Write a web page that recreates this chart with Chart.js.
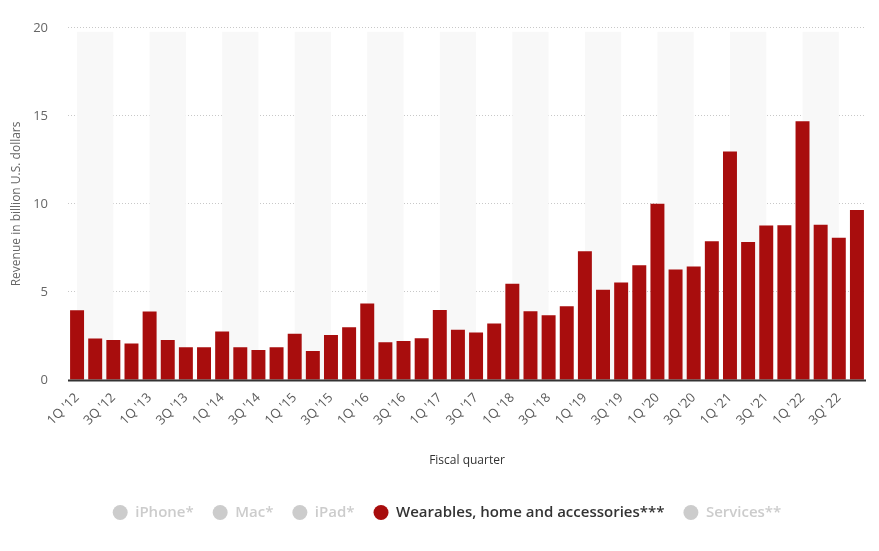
<!DOCTYPE html>
<html>
<head>
<meta charset="utf-8">
<script src="https://cdn.jsdelivr.net/npm/chart.js@4.4.0/dist/chart.umd.min.js"></script>
<style>
  html, body { margin: 0; padding: 0; background: #fff; }
  #wrap { width: 879px; height: 551px; position: relative; }
</style>
</head>
<body>
<div id="wrap"><canvas id="revChart"></canvas></div>
<script>
// fiscal quarters, 1Q '12 .. 4Q '22
const quarters = [
  "1Q '12", "2Q '12", "3Q '12", "4Q '12",
  "1Q '13", "2Q '13", "3Q '13", "4Q '13",
  "1Q '14", "2Q '14", "3Q '14", "4Q '14",
  "1Q '15", "2Q '15", "3Q '15", "4Q '15",
  "1Q '16", "2Q '16", "3Q '16", "4Q '16",
  "1Q '17", "2Q '17", "3Q '17", "4Q '17",
  "1Q '18", "2Q '18", "3Q '18", "4Q '18",
  "1Q '19", "2Q '19", "3Q '19", "4Q '19",
  "1Q '20", "2Q '20", "3Q '20", "4Q '20",
  "1Q '21", "2Q '21", "3Q '21", "4Q '21",
  "1Q '22", "2Q '22", "3Q' 22", "4Q '22"
];

// wearables, home and accessories revenue (billion USD)
const wearables = [
  3.96, 2.35, 2.27, 2.07,
  3.89, 2.27, 1.86, 1.86,
  2.76, 1.86, 1.71, 1.86,
  2.63, 1.65, 2.55, 2.99,
  4.34, 2.14, 2.22, 2.37,
  3.98, 2.85, 2.70, 3.21,
  5.46, 3.91, 3.68, 4.19,
  7.31, 5.13, 5.53, 6.52,
  10.01, 6.28, 6.45, 7.88,
  12.97, 7.84, 8.78, 8.79,
  14.70, 8.81, 8.08, 9.65
];

const yTicks = [0, 5, 10, 15, 20];

const legendNames = ['iPhone*', 'Mac*', 'iPad*', 'Wearables, home and accessories***', 'Services**'];
const legendActive = [false, false, false, true, false];

const barColor = '#a80d0d';
const offColor = '#cccccc';

// light column bands behind every other pair of quarters
const bands = {
  id: 'bands',
  beforeDatasetsDraw(chart) {
    const { ctx, chartArea, scales } = chart;
    ctx.save();
    ctx.fillStyle = '#f8f8f8';
    for (let i = 0; i < quarters.length; i += 4) {
      const x0 = scales.x.getPixelForValue(i);
      const x1 = scales.x.getPixelForValue(Math.min(i + 2, quarters.length - 1));
      ctx.fillRect(x0, chartArea.top + 4, x1 - x0, chartArea.bottom - chartArea.top - 4);
    }
    ctx.restore();
  },
  // baseline on top of the bars
  afterDatasetsDraw(chart) {
    const { ctx, chartArea, scales } = chart;
    const y = scales.y.getPixelForValue(0);
    ctx.save();
    ctx.strokeStyle = '#333';
    ctx.lineWidth = 2;
    ctx.beginPath();
    ctx.moveTo(chartArea.left, y + 0.5);
    ctx.lineTo(chartArea.right, y + 0.5);
    ctx.stroke();
    ctx.restore();
  }
};

new Chart(document.getElementById('revChart'), {
  type: 'bar',
  data: {
    labels: quarters,
    datasets: [{
      label: legendNames[3],
      data: wearables,
      backgroundColor: barColor,
      borderWidth: 0,
      barPercentage: 0.77,
      categoryPercentage: 1.0
    }]
  },
  options: {
    responsive: true,
    maintainAspectRatio: false,
    animation: false,
    layout: { padding: { top: 25, right: 13, bottom: 21, left: 28 } },
    scales: {
      x: {
        grid: { display: false },
        border: { display: false },
        ticks: {
          autoSkip: false,
          minRotation: 45,
          maxRotation: 45,
          padding: 2,
          color: '#5a5a5a',
          font: { family: 'Open Sans', size: 13 },
          callback(v, i) { return i % 2 === 0 ? quarters[i] : ''; }
        },
        title: {
          display: true,
          text: 'Fiscal quarter',
          color: '#333',
          font: { family: 'Open Sans', size: 12 },
          padding: { top: 0, bottom: 18 }
        },
        afterFit(scale) { scale.height = 106; }
      },
      y: {
        min: 0,
        max: 20,
        afterBuildTicks(scale) { scale.ticks = yTicks.map(v => ({ value: v })); },
        grid: {
          color: (c) => (c.tick && c.tick.value === 0 ? 'rgba(0,0,0,0)' : '#c8c8c8'),
          drawTicks: false
        },
        border: { display: false, dash: [1, 2] },
        ticks: {
          padding: 20,
          color: '#666',
          font: { family: 'Open Sans', size: 13 }
        },
        title: {
          display: true,
          text: 'Revenue in billion U.S. dollars',
          color: '#666',
          font: { family: 'Open Sans', size: 12 },
          padding: { top: -19, bottom: 0 }
        },
        afterFit(scale) { scale.width = 40; }
      }
    },
    plugins: {
      legend: {
        position: 'bottom',
        onClick: null,
        labels: {
          usePointStyle: true,
          pointStyle: 'circle',
          boxHeight: 10.6,
          pointStyleWidth: 15,
          padding: 19,
          font: { family: 'Open Sans', size: 15, weight: '600' },
          generateLabels() {
            return legendNames.map((name, i) => ({
              text: name,
              fillStyle: legendActive[i] ? barColor : offColor,
              strokeStyle: legendActive[i] ? barColor : offColor,
              lineWidth: 0,
              fontColor: legendActive[i] ? '#333' : offColor,
              pointStyle: 'circle',
              hidden: false,
              datasetIndex: 0
            }));
          }
        }
      },
      tooltip: { enabled: false }
    }
  },
  plugins: [bands]
});
</script>
</body>
</html>
